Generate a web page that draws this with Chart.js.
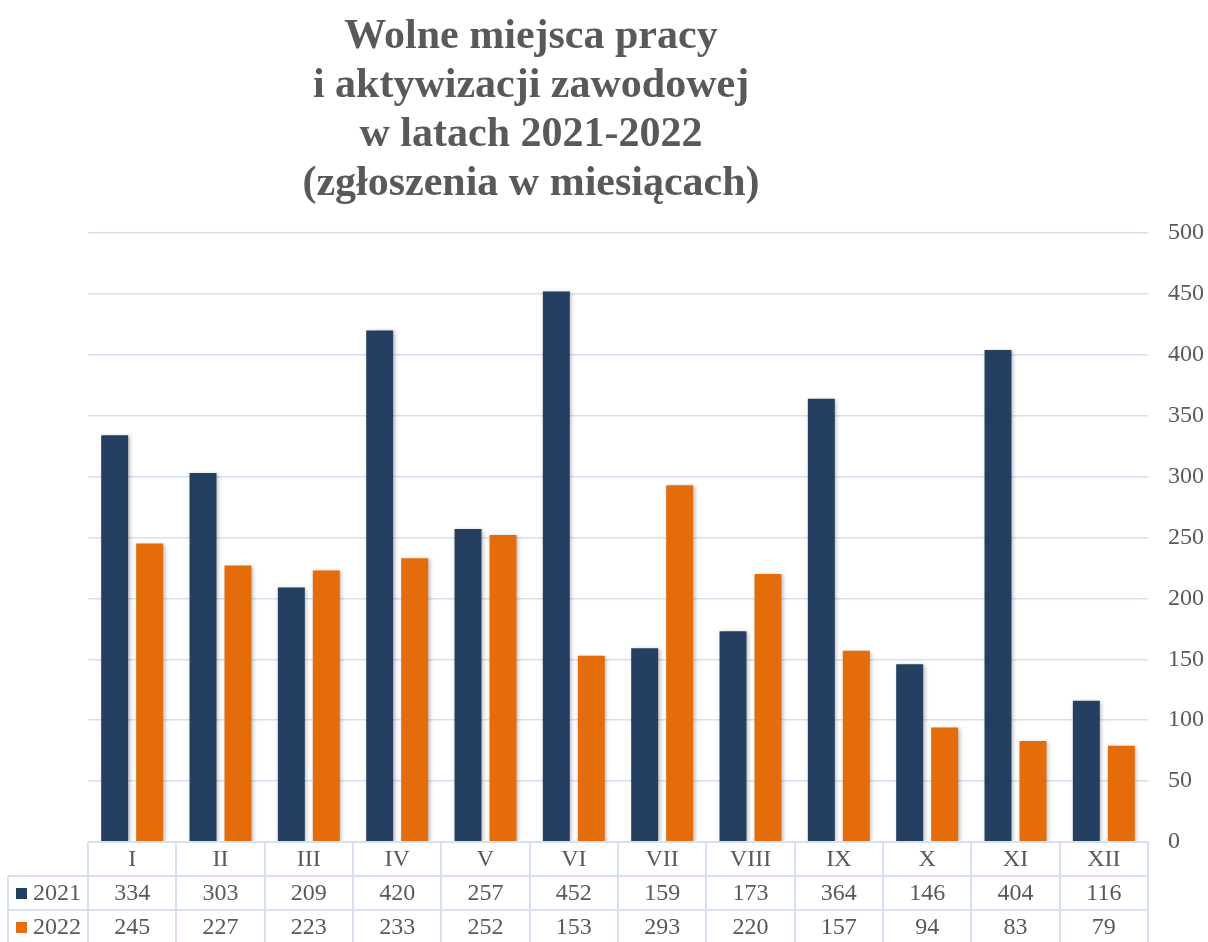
<!DOCTYPE html>
<html>
<head>
<meta charset="utf-8">
<script src="https://cdn.jsdelivr.net/npm/chart.js@4"></script>
<style>
html,body{margin:0;padding:0;background:#fff;}
#wrap{width:1208px;height:942px;}
</style>
</head>
<body>
<div id="wrap"><canvas id="c" width="1208" height="942"></canvas></div>
<script>
const titleLines = ["Wolne miejsca pracy", "i aktywizacji zawodowej", "w latach 2021-2022", "(zgłoszenia w miesiącach)"];
const months = ["I","II","III","IV","V","VI","VII","VIII","IX","X","XI","XII"];
const seriesNames = ["2021", "2022"];
const values2021 = [334,303,209,420,257,452,159,173,364,146,404,116];
const values2022 = [245,227,223,233,252,153,293,220,157,94,83,79];
const yTicksMin = 0, yTicksMax = 500, yTicksStep = 50;

const colors = ["#253F60", "#E46C0A"];
const textColor = "#595959";
const gridColor = "#D5E0F0";
const serif = "'Liberation Serif', 'Times New Roman', serif";

const shadowPlugin = {
  id: 'barShadow',
  beforeDatasetsDraw(chart) {
    const ctx = chart.ctx;
    ctx.save();
    ctx.shadowColor = 'rgba(0,0,0,0.28)';
    ctx.shadowBlur = 4;
    ctx.shadowOffsetX = 1.5;
    ctx.shadowOffsetY = 1;
  },
  afterDatasetsDraw(chart) { chart.ctx.restore(); }
};

const tablePlugin = {
  id: 'dataTable',
  afterDraw(chart) {
    const ctx = chart.ctx;
    const xs = chart.scales.x;
    const ca = chart.chartArea;
    const n = months.length;
    const cw = (ca.right - ca.left) / n;
    const top = ca.bottom;
    const rh = 34;
    const leftCol = 8;
    ctx.save();
    ctx.strokeStyle = gridColor;
    ctx.lineWidth = 2;
    ctx.beginPath();
    ctx.moveTo(ca.left, top); ctx.lineTo(ca.right, top);
    ctx.moveTo(leftCol, top + rh); ctx.lineTo(ca.right, top + rh);
    ctx.moveTo(leftCol, top + 2*rh); ctx.lineTo(ca.right, top + 2*rh);
    ctx.moveTo(leftCol, top + 3*rh); ctx.lineTo(ca.right, top + 3*rh);
    ctx.moveTo(leftCol, top + rh); ctx.lineTo(leftCol, top + 3*rh);
    for (let i = 0; i <= n; i++) {
      const x = Math.round(ca.left + i * cw);
      ctx.moveTo(x, top); ctx.lineTo(x, top + 3*rh);
    }
    ctx.stroke();

    ctx.fillStyle = textColor;
    ctx.font = "24px " + serif;
    ctx.textAlign = 'center';
    ctx.textBaseline = 'middle';
    const rows = [values2021, values2022];
    for (let i = 0; i < n; i++) {
      const cx = xs.getPixelForValue(i);
      ctx.fillText(months[i], cx, top + rh/2 + 1);
      ctx.fillText(String(rows[0][i]), cx, top + rh*1.5 + 1);
      ctx.fillText(String(rows[1][i]), cx, top + rh*2.5 + 1);
    }
    ctx.textAlign = 'left';
    for (let r = 0; r < 2; r++) {
      const cy = top + rh*(1.5 + r);
      ctx.fillStyle = colors[r];
      ctx.fillRect(16, cy - 5, 11, 11);
      ctx.fillStyle = textColor;
      ctx.fillText(seriesNames[r], 33, cy + 1);
    }
    ctx.restore();
  }
};

const titlePlugin = {
  id: 'titleLines',
  afterDraw(chart) {
    const ctx = chart.ctx;
    ctx.save();
    ctx.fillStyle = textColor;
    ctx.font = "bold 42px " + serif;
    ctx.textAlign = 'center';
    ctx.textBaseline = 'alphabetic';
    titleLines.forEach((t, i) => ctx.fillText(t, 531, 48 + i * 49));
    ctx.restore();
  }
};

new Chart(document.getElementById('c'), {
  type: 'bar',
  data: {
    labels: months,
    datasets: [
      { label: seriesNames[0], data: values2021, backgroundColor: colors[0] },
      { label: seriesNames[1], data: values2022, backgroundColor: colors[1] }
    ]
  },
  options: {
    responsive: false,
    animation: false,
    layout: { padding: { top: 233, left: 88, bottom: 100, right: 0 } },
    datasets: { bar: { categoryPercentage: 0.792, barPercentage: 0.771 } },
    plugins: { legend: { display: false }, title: { display: false }, tooltip: { enabled: false } },
    scales: {
      x: { display: false },
      y: {
        position: 'right',
        min: yTicksMin, max: yTicksMax,
        border: { display: false },
        grid: { color: gridColor, lineWidth: 1.5, drawTicks: false },
        ticks: { stepSize: yTicksStep, color: textColor, padding: 20, font: { family: serif, size: 24 } },
        afterFit(s) { s.width = 60; }
      }
    }
  },
  plugins: [shadowPlugin, tablePlugin, titlePlugin]
});
</script>
</body>
</html>
